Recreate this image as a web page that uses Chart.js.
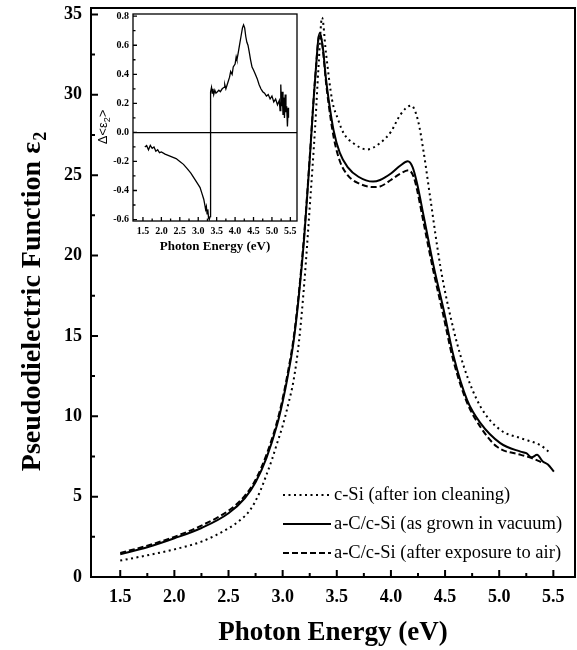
<!DOCTYPE html>
<html>
<head>
<meta charset="utf-8">
<script src="https://cdn.jsdelivr.net/npm/chart.js@4.4.1/dist/chart.umd.min.js"></script>
<style>
  html, body { margin: 0; padding: 0; background: #fff; }
  #wrap { position: relative; width: 577px; height: 650px; }
  #main { position: absolute; left: 0; top: 0; }
  #inset { position: absolute; left: 93px; top: 0; }
</style>
</head>
<body>
<div id="wrap">
  <canvas id="main" width="577" height="650"></canvas>
  <canvas id="inset" width="212" height="260"></canvas>
</div>
<script>
// c-Si (after ion cleaning) - dotted
const cleanE   = [1.5, 1.75, 2.0, 2.25, 2.5, 2.6, 2.7, 2.79, 2.85, 2.9, 2.95, 3.0, 3.05, 3.1, 3.15, 3.2, 3.25, 3.30, 3.33, 3.364, 3.40, 3.456, 3.51, 3.564, 3.65, 3.78, 3.90, 4.0, 4.088, 4.187, 4.25, 4.303, 4.365, 4.457, 4.55, 4.673, 4.827, 5.01, 5.197, 5.38, 5.458];
const cleanEps = [1.02, 1.35, 1.72, 2.2, 3.03, 3.5, 4.17, 5.3, 6.35, 7.28, 8.35, 9.4, 10.7, 12.2, 14.6, 18.3, 23.0, 28.0, 31.6, 34.8, 32.6, 29.7, 28.5, 27.6, 27.0, 26.6, 27.0, 27.7, 28.77, 29.33, 28.4, 26.4, 23.5, 19.3, 16.2, 13.1, 10.6, 9.15, 8.64, 8.2, 7.8];

// a-C/c-Si (as grown in vacuum) - solid
const grownE   = [1.5, 1.75, 2.0, 2.25, 2.5, 2.65, 2.75, 2.85, 2.95, 3.0, 3.05, 3.1, 3.15, 3.2, 3.25, 3.3, 3.342, 3.37, 3.40, 3.425, 3.47, 3.527, 3.6, 3.7, 3.835, 3.9, 4.0, 4.088, 4.155, 4.2, 4.241, 4.303, 4.395, 4.488, 4.58, 4.704, 4.827, 5.01, 5.197, 5.25, 5.3, 5.35, 5.4, 5.45, 5.505];
const grownEps = [1.41, 1.85, 2.41, 3.05, 3.97, 4.9, 5.9, 7.4, 9.5, 10.9, 12.6, 14.6, 17.5, 21.2, 26.0, 31.0, 33.85, 33.0, 31.0, 29.7, 27.8, 26.4, 25.5, 24.9, 24.6, 24.7, 25.1, 25.6, 25.86, 25.5, 24.5, 22.43, 19.32, 16.6, 13.7, 11.0, 9.57, 8.33, 7.8, 7.7, 7.45, 7.6, 7.2, 7.0, 6.56];

// a-C/c-Si (after exposure to air) - dashed
const airE   = [1.5, 1.75, 2.0, 2.25, 2.5, 2.65, 2.75, 2.85, 2.95, 3.0, 3.05, 3.1, 3.15, 3.2, 3.25, 3.3, 3.342, 3.37, 3.40, 3.425, 3.47, 3.527, 3.6, 3.7, 3.835, 3.9, 4.0, 4.088, 4.165, 4.21, 4.241, 4.30, 4.39, 4.48, 4.575, 4.70, 4.82, 4.98, 5.2, 5.3, 5.41];
const airEps = [1.5, 1.95, 2.5, 3.2, 4.13, 5.05, 6.05, 7.6, 9.7, 11.1, 12.8, 14.8, 17.7, 21.4, 26.1, 31.0, 33.8, 32.9, 30.8, 29.4, 27.4, 25.9, 25.0, 24.5, 24.26, 24.3, 24.7, 25.1, 25.3, 24.9, 24.1, 22.1, 19.1, 16.4, 13.5, 10.9, 9.4, 8.1, 7.6, 7.4, 7.08];

// inset: difference spectrum
const insetE = [1.55, 1.6, 1.65, 1.7, 1.75, 1.8, 1.85, 1.9, 1.95, 2.0, 2.1, 2.2, 2.3, 2.4, 2.5, 2.6, 2.7, 2.8, 2.9, 3.0, 3.05, 3.1, 3.15, 3.18, 3.2, 3.22, 3.24, 3.26, 3.28, 3.3, 3.32, 3.33, 3.34, 3.36, 3.38, 3.4, 3.42, 3.45, 3.48, 3.52, 3.56, 3.6, 3.65, 3.7, 3.72, 3.75, 3.8, 3.85, 3.88, 3.92, 3.95, 4.0, 4.03, 4.05, 4.08, 4.12, 4.16, 4.2, 4.23, 4.26, 4.29, 4.32, 4.35, 4.38, 4.42, 4.46, 4.5, 4.55, 4.6, 4.65, 4.7, 4.75, 4.8, 4.85, 4.9, 4.95, 5.0, 5.05, 5.1, 5.15, 5.2, 5.22, 5.24, 5.26, 5.28, 5.3, 5.32, 5.34, 5.36, 5.38, 5.4, 5.42, 5.44, 5.45];
const insetDelta = [-0.10, -0.09, -0.12, -0.09, -0.11, -0.10, -0.13, -0.12, -0.14, -0.135, -0.15, -0.16, -0.17, -0.18, -0.20, -0.22, -0.25, -0.28, -0.32, -0.36, -0.38, -0.42, -0.46, -0.50, -0.53, -0.51, -0.56, -0.53, -0.59, -0.60, -0.58, -0.2, 0.28, 0.31, 0.27, 0.30, 0.26, 0.29, 0.27, 0.28, 0.29, 0.28, 0.30, 0.31, 0.33, 0.30, 0.34, 0.38, 0.42, 0.40, 0.45, 0.47, 0.52, 0.50, 0.54, 0.60, 0.66, 0.72, 0.74, 0.72, 0.66, 0.62, 0.60, 0.56, 0.50, 0.45, 0.43, 0.40, 0.37, 0.33, 0.30, 0.28, 0.27, 0.25, 0.26, 0.23, 0.25, 0.21, 0.23, 0.19, 0.22, 0.15, 0.33, 0.18, 0.28, 0.12, 0.24, 0.10, 0.26, 0.14, 0.18, 0.04, 0.17, 0.10];

const xTicks = [1.5, 2.0, 2.5, 3.0, 3.5, 4.0, 4.5, 5.0, 5.5];
const xTickLabels = ['1.5', '2.0', '2.5', '3.0', '3.5', '4.0', '4.5', '5.0', '5.5'];
const xMinor = [1.75, 2.25, 2.75, 3.25, 3.75, 4.25, 4.75, 5.25];
const yTicks = [0, 5, 10, 15, 20, 25, 30, 35];
const yTickLabels = ['0', '5', '10', '15', '20', '25', '30', '35'];
const yMinor = [2.5, 7.5, 12.5, 17.5, 22.5, 27.5, 32.5];
const insetYTicks = [-0.6, -0.4, -0.2, 0, 0.2, 0.4, 0.6, 0.8];
const insetYTickLabels = ['-0.6', '-0.4', '-0.2', '0.0', '0.2', '0.4', '0.6', '0.8'];
const insetYMinor = [-0.5, -0.3, -0.1, 0.1, 0.3, 0.5, 0.7];

const legendLabels = ['c-Si (after ion cleaning)', 'a-C/c-Si (as grown in vacuum)', 'a-C/c-Si (after exposure to air)'];
const legendDash = [[2, 3.5], [], [6, 3]];

const serif = 'Liberation Serif';

function pairs(xs, ys) {
  return xs.map((x, i) => ({ x: x, y: ys[i] }));
}

// box round the plot and ticks pointing inward
const frameTicks = {
  id: 'frameTicks',
  afterDatasetsDraw(chart, args, o) {
    const { ctx, chartArea: a } = chart;
    const x = chart.scales.x, y = chart.scales.y;
    ctx.save();
    ctx.strokeStyle = '#000';
    ctx.lineWidth = o.lineWidth;
    ctx.strokeRect(a.left, a.top, a.right - a.left, a.bottom - a.top);
    ctx.beginPath();
    o.xMajor.forEach(v => { const p = x.getPixelForValue(v); ctx.moveTo(p, a.bottom); ctx.lineTo(p, a.bottom - o.major); });
    o.xMinor.forEach(v => { const p = x.getPixelForValue(v); ctx.moveTo(p, a.bottom); ctx.lineTo(p, a.bottom - o.minor); });
    o.yMajor.forEach(v => { const p = y.getPixelForValue(v); ctx.moveTo(a.left, p); ctx.lineTo(a.left + o.major, p); });
    o.yMinor.forEach(v => { const p = y.getPixelForValue(v); ctx.moveTo(a.left, p); ctx.lineTo(a.left + o.minor, p); });
    ctx.stroke();
    ctx.restore();
  }
};

// axis titles and the legend of the main chart
const mainDecor = {
  id: 'mainDecor',
  afterDraw(chart) {
    const ctx = chart.ctx;
    const a = chart.chartArea;
    ctx.save();
    ctx.fillStyle = '#000';
    ctx.font = 'bold 27px ' + serif;
    ctx.textAlign = 'center';
    ctx.textBaseline = 'middle';
    ctx.fillText('Photon Energy (eV)', (a.left + a.right) / 2, 633);

    // y title with a real subscript
    ctx.translate(31, 302);
    ctx.rotate(-Math.PI / 2);
    const t1 = 'Pseudodielectric Function ε';
    ctx.font = 'bold 28px ' + serif;
    const w1 = ctx.measureText(t1).width;
    ctx.font = 'bold 18px ' + serif;
    const w2 = ctx.measureText('2').width;
    const start = -(w1 + w2) / 2;
    ctx.textAlign = 'left';
    ctx.textBaseline = 'alphabetic';
    ctx.font = 'bold 28px ' + serif;
    ctx.fillText(t1, start, 9);
    ctx.font = 'bold 18px ' + serif;
    ctx.fillText('2', start + w1 + 1, 15);
    ctx.restore();

    // legend
    ctx.save();
    ctx.strokeStyle = '#000';
    ctx.fillStyle = '#000';
    ctx.lineWidth = 2;
    ctx.font = '18.5px ' + serif;
    ctx.textBaseline = 'middle';
    const rows = [495, 524, 553];
    legendLabels.forEach((lab, i) => {
      ctx.setLineDash(legendDash[i]);
      ctx.beginPath();
      ctx.moveTo(283, rows[i]);
      ctx.lineTo(331, rows[i]);
      ctx.stroke();
      ctx.fillText(lab, 334, rows[i]);
    });
    ctx.restore();
  }
};

const insetDecor = {
  id: 'insetDecor',
  afterDraw(chart) {
    const ctx = chart.ctx;
    const a = chart.chartArea;
    ctx.save();
    ctx.fillStyle = '#000';
    ctx.font = 'bold 13px ' + serif;
    ctx.textAlign = 'center';
    ctx.textBaseline = 'middle';
    ctx.fillText('Photon Energy (eV)', (a.left + a.right) / 2, 247);
    ctx.translate(9, 127);
    ctx.rotate(-Math.PI / 2);
    ctx.font = '13px Liberation Sans';
    ctx.textAlign = 'left';
    ctx.textBaseline = 'alphabetic';
    const s1 = 'Δ<ε';
    const ws = ctx.measureText(s1).width;
    ctx.font = '9px Liberation Sans';
    const wsub = ctx.measureText('2').width;
    ctx.font = '13px Liberation Sans';
    const w3 = ctx.measureText('>').width;
    const st = -(ws + wsub + w3) / 2;
    ctx.fillText(s1, st, 5);
    ctx.font = '9px Liberation Sans';
    ctx.fillText('2', st + ws, 8);
    ctx.font = '13px Liberation Sans';
    ctx.fillText('>', st + ws + wsub, 5);
    ctx.restore();
  }
};

const lineStyle = (dash) => ({
  borderColor: '#000',
  borderWidth: 2,
  borderDash: dash,
  pointRadius: 0,
  fill: false,
  cubicInterpolationMode: 'monotone'
});

// stop Chart.js from adding room for half-height tick labels
const noPadY = s => { s.paddingTop = 0; s.paddingBottom = 0; };
const noPadX = s => { s.paddingLeft = 0; s.paddingRight = 0; };

new Chart(document.getElementById('main'), {
  type: 'line',
  data: {
    datasets: [
      Object.assign({ label: legendLabels[0], data: pairs(cleanE, cleanEps) }, lineStyle(legendDash[0])),
      Object.assign({ label: legendLabels[1], data: pairs(grownE, grownEps) }, lineStyle(legendDash[1])),
      Object.assign({ label: legendLabels[2], data: pairs(airE, airEps) }, lineStyle(legendDash[2]))
    ]
  },
  options: {
    responsive: false,
    animation: false,
    devicePixelRatio: 1,
    layout: { padding: { top: 8, right: 2, left: 0, bottom: 0 } },
    plugins: {
      legend: { display: false },
      tooltip: { enabled: false },
      frameTicks: { lineWidth: 2, major: 7, minor: 4, xMajor: xTicks, xMinor: xMinor, yMajor: yTicks, yMinor: yMinor }
    },
    scales: {
      x: {
        type: 'linear', min: 1.23, max: 5.7,
        grid: { display: false, drawTicks: false },
        border: { display: false },
        afterBuildTicks: s => { s.ticks = xTicks.map(v => ({ value: v })); },
        afterFit: s => { s.height = 73; noPadX(s); },
        ticks: {
          callback: (v, i) => xTickLabels[i],
          font: { family: serif, weight: 'bold', size: 18 },
          color: '#000', padding: 10, maxRotation: 0, autoSkip: false
        }
      },
      y: {
        type: 'linear', min: 0, max: 35.4,
        grid: { display: false, drawTicks: false },
        border: { display: false },
        afterBuildTicks: s => { s.ticks = yTicks.map(v => ({ value: v })); },
        afterFit: s => { s.width = 91; noPadY(s); },
        ticks: {
          callback: (v, i) => yTickLabels[i],
          font: { family: serif, weight: 'bold', size: 18 },
          color: '#000', padding: 9, autoSkip: false
        }
      }
    }
  },
  plugins: [frameTicks, mainDecor]
});

new Chart(document.getElementById('inset'), {
  type: 'line',
  data: {
    datasets: [{
      data: pairs(insetE, insetDelta),
      borderColor: '#000', borderWidth: 1.3, pointRadius: 0, fill: false, tension: 0
    }]
  },
  options: {
    responsive: false,
    animation: false,
    devicePixelRatio: 1,
    layout: { padding: { top: 14, right: 8, left: 0, bottom: 0 } },
    plugins: {
      legend: { display: false },
      tooltip: { enabled: false },
      frameTicks: { lineWidth: 1.3, major: 4, minor: 2.5, xMajor: xTicks, xMinor: xMinor, yMajor: insetYTicks, yMinor: insetYMinor }
    },
    scales: {
      x: {
        type: 'linear', min: 1.23, max: 5.68,
        grid: { display: false, drawTicks: false },
        border: { display: false },
        afterBuildTicks: s => { s.ticks = xTicks.map(v => ({ value: v })); },
        afterFit: s => { s.height = 39; noPadX(s); },
        ticks: {
          callback: (v, i) => xTickLabels[i],
          font: { family: serif, weight: 'bold', size: 10 },
          color: '#000', padding: 4, maxRotation: 0, autoSkip: false
        }
      },
      y: {
        type: 'linear', min: -0.61, max: 0.815,
        grid: {
          drawTicks: false,
          color: c => (c.tick && c.tick.value === 0 ? '#000' : 'rgba(0,0,0,0)'),
          lineWidth: 1.2
        },
        border: { display: false },
        afterBuildTicks: s => { s.ticks = insetYTicks.map(v => ({ value: v })); },
        afterFit: s => { s.width = 40; noPadY(s); },
        ticks: {
          callback: (v, i) => insetYTickLabels[i],
          font: { family: serif, weight: 'bold', size: 10 },
          color: '#000', padding: 4, autoSkip: false
        }
      }
    }
  },
  plugins: [frameTicks, insetDecor]
});
</script>
</body>
</html>
